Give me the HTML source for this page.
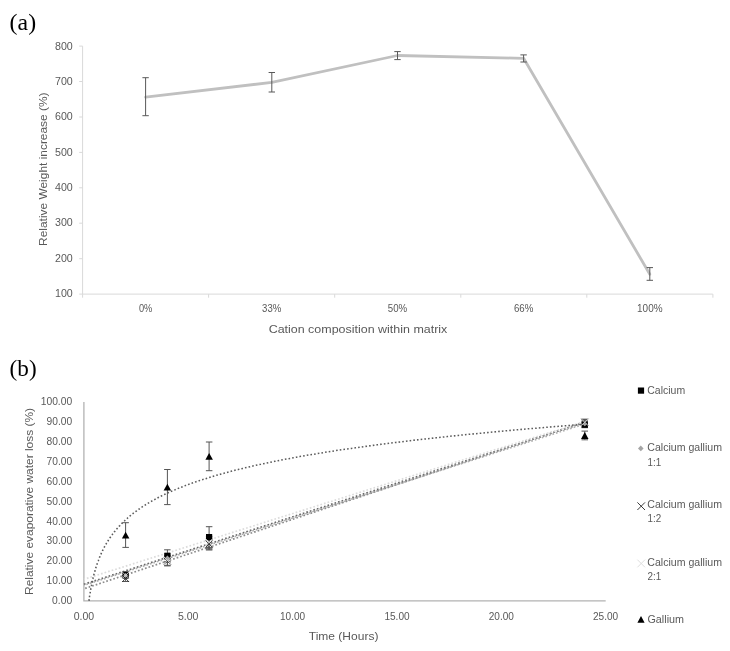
<!DOCTYPE html>
<html lang="en">
<head>
<meta charset="utf-8">
<title>Figure</title>
<style>
html,body{margin:0;padding:0;background:#fff;}
body{width:730px;height:651px;overflow:hidden;}
svg{display:block;filter:blur(0.45px);}
text{font-family:"Liberation Sans",sans-serif;fill:#595959;}
.ser{font-family:"Liberation Serif",serif;fill:#000;}
</style>
</head>
<body>
<svg width="730" height="651" viewBox="0 0 730 651">
<rect width="730" height="651" fill="#fff"/>
<text x="9.6" y="29.8" font-size="23.6" text-anchor="start" textLength="26.5" lengthAdjust="spacingAndGlyphs" class="ser">(a)</text>
<text x="9.6" y="376.1" font-size="23.6" text-anchor="start" textLength="27.0" lengthAdjust="spacingAndGlyphs" class="ser">(b)</text>
<g stroke="#d9d9d9" stroke-width="1" fill="none">
<path d="M82.6 46.1 V294.1 H712.8"/>
<path d="M79.2 294.1 H82.6 M79.2 258.7 H82.6 M79.2 223.2 H82.6 M79.2 187.8 H82.6 M79.2 152.4 H82.6 M79.2 117.0 H82.6 M79.2 81.5 H82.6 M79.2 46.1 H82.6 M82.6 294.1 V297.7 M208.6 294.1 V297.7 M334.7 294.1 V297.7 M460.8 294.1 V297.7 M586.8 294.1 V297.7 M712.9 294.1 V297.7 "/>
</g>
<text x="72.8" y="296.9" font-size="10.5" text-anchor="end" textLength="17.8" lengthAdjust="spacingAndGlyphs">100</text>
<text x="72.8" y="261.6" font-size="10.5" text-anchor="end" textLength="17.8" lengthAdjust="spacingAndGlyphs">200</text>
<text x="72.8" y="226.3" font-size="10.5" text-anchor="end" textLength="17.8" lengthAdjust="spacingAndGlyphs">300</text>
<text x="72.8" y="191.0" font-size="10.5" text-anchor="end" textLength="17.8" lengthAdjust="spacingAndGlyphs">400</text>
<text x="72.8" y="155.7" font-size="10.5" text-anchor="end" textLength="17.8" lengthAdjust="spacingAndGlyphs">500</text>
<text x="72.8" y="120.4" font-size="10.5" text-anchor="end" textLength="17.8" lengthAdjust="spacingAndGlyphs">600</text>
<text x="72.8" y="85.1" font-size="10.5" text-anchor="end" textLength="17.8" lengthAdjust="spacingAndGlyphs">700</text>
<text x="72.8" y="49.8" font-size="10.5" text-anchor="end" textLength="17.8" lengthAdjust="spacingAndGlyphs">800</text>
<text x="145.6" y="312.1" font-size="10.5" text-anchor="middle" textLength="13.4" lengthAdjust="spacingAndGlyphs">0%</text>
<text x="271.7" y="312.1" font-size="10.5" text-anchor="middle" textLength="19.2" lengthAdjust="spacingAndGlyphs">33%</text>
<text x="397.5" y="312.1" font-size="10.5" text-anchor="middle" textLength="19.4" lengthAdjust="spacingAndGlyphs">50%</text>
<text x="523.6" y="312.1" font-size="10.5" text-anchor="middle" textLength="19.4" lengthAdjust="spacingAndGlyphs">66%</text>
<text x="649.8" y="312.1" font-size="10.5" text-anchor="middle" textLength="25.5" lengthAdjust="spacingAndGlyphs">100%</text>
<text x="358.0" y="333.2" font-size="10.8" text-anchor="middle" textLength="178.7" lengthAdjust="spacingAndGlyphs">Cation composition within matrix</text>
<text x="46.8" y="169.2" font-size="11" text-anchor="middle" textLength="153.5" lengthAdjust="spacingAndGlyphs" transform="rotate(-90 46.8 169.2)">Relative Weight increase (%)</text>
<polyline fill="none" stroke="#c0c0c0" stroke-width="2.8" stroke-linejoin="round" stroke-linecap="round" points="145.6,97.2 271.8,82.4 397.5,55.5 523.6,58.3 649.8,274.2"/>
<path d="M145.6 77.7 V115.7 M142.4 77.7 H148.8 M142.4 115.7 H148.8 M271.8 72.5 V92.0 M268.6 72.5 H275.0 M268.6 92.0 H275.0 M397.5 51.6 V59.6 M394.3 51.6 H400.7 M394.3 59.6 H400.7 M523.6 54.9 V62.0 M520.4 54.9 H526.8 M520.4 62.0 H526.8 M649.8 267.6 V280.3 M646.6 267.6 H653.0 M646.6 280.3 H653.0 " stroke="#595959" stroke-width="1" fill="none"/>
<path d="M83.9 402 V600.8 H605.7" stroke="#b2b2b2" stroke-width="1.3" fill="none"/>
<text x="72.2" y="604.2" font-size="10.5" text-anchor="end" textLength="20.1" lengthAdjust="spacingAndGlyphs">0.00</text>
<text x="72.2" y="584.3" font-size="10.5" text-anchor="end" textLength="25.6" lengthAdjust="spacingAndGlyphs">10.00</text>
<text x="72.2" y="564.4" font-size="10.5" text-anchor="end" textLength="25.6" lengthAdjust="spacingAndGlyphs">20.00</text>
<text x="72.2" y="544.4" font-size="10.5" text-anchor="end" textLength="25.6" lengthAdjust="spacingAndGlyphs">30.00</text>
<text x="72.2" y="524.5" font-size="10.5" text-anchor="end" textLength="25.6" lengthAdjust="spacingAndGlyphs">40.00</text>
<text x="72.2" y="504.6" font-size="10.5" text-anchor="end" textLength="25.6" lengthAdjust="spacingAndGlyphs">50.00</text>
<text x="72.2" y="484.7" font-size="10.5" text-anchor="end" textLength="25.6" lengthAdjust="spacingAndGlyphs">60.00</text>
<text x="72.2" y="464.8" font-size="10.5" text-anchor="end" textLength="25.6" lengthAdjust="spacingAndGlyphs">70.00</text>
<text x="72.2" y="444.8" font-size="10.5" text-anchor="end" textLength="25.6" lengthAdjust="spacingAndGlyphs">80.00</text>
<text x="72.2" y="424.9" font-size="10.5" text-anchor="end" textLength="25.6" lengthAdjust="spacingAndGlyphs">90.00</text>
<text x="72.2" y="404.7" font-size="10.5" text-anchor="end" textLength="31.5" lengthAdjust="spacingAndGlyphs">100.00</text>
<text x="83.9" y="619.7" font-size="10.5" text-anchor="middle" textLength="20.5" lengthAdjust="spacingAndGlyphs">0.00</text>
<text x="188.2" y="619.7" font-size="10.5" text-anchor="middle" textLength="20.5" lengthAdjust="spacingAndGlyphs">5.00</text>
<text x="292.6" y="619.7" font-size="10.5" text-anchor="middle" textLength="25.2" lengthAdjust="spacingAndGlyphs">10.00</text>
<text x="397.0" y="619.7" font-size="10.5" text-anchor="middle" textLength="25.2" lengthAdjust="spacingAndGlyphs">15.00</text>
<text x="501.3" y="619.7" font-size="10.5" text-anchor="middle" textLength="25.2" lengthAdjust="spacingAndGlyphs">20.00</text>
<text x="605.6" y="619.7" font-size="10.5" text-anchor="middle" textLength="25.2" lengthAdjust="spacingAndGlyphs">25.00</text>
<text x="343.6" y="639.9" font-size="11" text-anchor="middle" textLength="69.6" lengthAdjust="spacingAndGlyphs">Time (Hours)</text>
<text x="32.8" y="501.5" font-size="11" text-anchor="middle" textLength="187.0" lengthAdjust="spacingAndGlyphs" transform="rotate(-90 32.8 501.5)">Relative evaporative water loss (%)</text>
<path d="M83.9 584.3 L584.8 422.4" stroke="#6a6a6a" stroke-width="1.7" stroke-dasharray="1.7 2.01" stroke-dashoffset="0" fill="none"/>
<path d="M83.9 585.3 L584.8 423.9" stroke="#b0b0b0" stroke-width="1.7" stroke-dasharray="1.7 2.01" stroke-dashoffset="1.2" fill="none"/>
<path d="M83.9 588.8 L584.8 422.0" stroke="#8c8c8c" stroke-width="1.7" stroke-dasharray="1.7 2.01" stroke-dashoffset="2.4" fill="none"/>
<path d="M83.9 579.3 L584.8 421.5" stroke="#dcdcdc" stroke-width="1.7" stroke-dasharray="1.7 2.01" stroke-dashoffset="0.6" fill="none"/>
<path d="M89.0 600.8 L89.1 600.2 L89.1 599.6 L89.2 599.0 L89.3 598.4 L89.4 597.9 L89.5 597.3 L89.5 596.7 L89.6 596.1 L89.7 595.5 L89.8 594.9 L89.9 594.3 L90.0 593.7 L90.1 593.1 L90.2 592.6 L90.3 592.0 L90.4 591.4 L90.5 590.8 L90.6 590.2 L90.7 589.6 L90.8 589.0 L90.9 588.4 L91.0 587.9 L91.1 587.3 L91.2 586.7 L91.3 586.1 L91.5 585.5 L91.6 584.9 L91.7 584.3 L91.8 583.7 L91.9 583.1 L92.1 582.6 L92.2 582.0 L92.3 581.4 L92.4 580.8 L92.6 580.2 L92.7 579.6 L92.8 579.0 L93.0 578.4 L93.1 577.8 L93.3 577.3 L93.4 576.7 L93.5 576.1 L93.7 575.5 L93.8 574.9 L94.0 574.3 L94.2 573.7 L94.3 573.1 L94.5 572.5 L94.6 572.0 L94.8 571.4 L95.0 570.8 L95.1 570.2 L95.3 569.6 L95.5 569.0 L95.7 568.4 L95.9 567.8 L96.0 567.3 L96.2 566.7 L96.4 566.1 L96.6 565.5 L96.8 564.9 L97.0 564.3 L97.2 563.7 L97.4 563.1 L97.6 562.5 L97.8 562.0 L98.0 561.4 L98.3 560.8 L98.5 560.2 L98.7 559.6 L98.9 559.0 L99.2 558.4 L99.4 557.8 L99.6 557.2 L99.9 556.7 L100.1 556.1 L100.4 555.5 L100.6 554.9 L100.9 554.3 L101.2 553.7 L101.4 553.1 L101.7 552.5 L102.0 552.0 L102.3 551.4 L102.5 550.8 L102.8 550.2 L103.1 549.6 L103.4 549.0 L103.7 548.4 L104.0 547.8 L104.3 547.2 L104.6 546.7 L105.0 546.1 L105.3 545.5 L105.6 544.9 L106.0 544.3 L106.3 543.7 L106.6 543.1 L107.0 542.5 L107.3 541.9 L107.7 541.4 L108.1 540.8 L108.4 540.2 L108.8 539.6 L109.2 539.0 L109.6 538.4 L110.0 537.8 L110.4 537.2 L110.8 536.6 L111.2 536.1 L111.6 535.5 L112.1 534.9 L112.5 534.3 L112.9 533.7 L113.4 533.1 L113.9 532.5 L114.3 531.9 L114.8 531.4 L115.3 530.8 L115.7 530.2 L116.2 529.6 L116.7 529.0 L117.2 528.4 L117.8 527.8 L118.3 527.2 L118.8 526.6 L119.3 526.1 L119.9 525.5 L120.4 524.9 L121.0 524.3 L121.6 523.7 L122.2 523.1 L122.8 522.5 L123.4 521.9 L124.0 521.3 L124.6 520.8 L125.2 520.2 L125.8 519.6 L126.5 519.0 L127.2 518.4 L127.8 517.8 L128.5 517.2 L129.2 516.6 L129.9 516.0 L130.6 515.5 L131.3 514.9 L132.0 514.3 L132.8 513.7 L133.5 513.1 L134.3 512.5 L135.1 511.9 L135.9 511.3 L136.7 510.8 L137.5 510.2 L138.3 509.6 L139.2 509.0 L140.0 508.4 L140.9 507.8 L141.8 507.2 L142.6 506.6 L143.5 506.0 L144.5 505.5 L145.4 504.9 L146.4 504.3 L147.3 503.7 L148.3 503.1 L149.3 502.5 L150.3 501.9 L151.3 501.3 L152.4 500.7 L153.4 500.2 L154.5 499.6 L155.6 499.0 L156.7 498.4 L157.8 497.8 L158.9 497.2 L160.1 496.6 L161.3 496.0 L162.5 495.5 L163.7 494.9 L164.9 494.3 L166.2 493.7 L167.4 493.1 L168.7 492.5 L170.0 491.9 L171.4 491.3 L172.7 490.7 L174.1 490.2 L175.5 489.6 L176.9 489.0 L178.3 488.4 L179.8 487.8 L181.3 487.2 L182.8 486.6 L184.3 486.0 L185.8 485.4 L187.4 484.9 L189.0 484.3 L190.6 483.7 L192.3 483.1 L193.9 482.5 L195.6 481.9 L197.4 481.3 L199.1 480.7 L200.9 480.1 L202.7 479.6 L204.5 479.0 L206.4 478.4 L208.3 477.8 L210.2 477.2 L212.1 476.6 L214.1 476.0 L216.1 475.4 L218.2 474.9 L220.2 474.3 L222.3 473.7 L224.5 473.1 L226.6 472.5 L228.8 471.9 L231.1 471.3 L233.4 470.7 L235.7 470.1 L238.0 469.6 L240.4 469.0 L242.8 468.4 L245.2 467.8 L247.7 467.2 L250.3 466.6 L252.8 466.0 L255.4 465.4 L258.1 464.8 L260.8 464.3 L263.5 463.7 L266.3 463.1 L269.1 462.5 L271.9 461.9 L274.8 461.3 L277.8 460.7 L280.8 460.1 L283.8 459.5 L286.9 459.0 L290.0 458.4 L293.2 457.8 L296.4 457.2 L299.7 456.6 L303.0 456.0 L306.4 455.4 L309.9 454.8 L313.3 454.3 L316.9 453.7 L320.5 453.1 L324.1 452.5 L327.8 451.9 L331.6 451.3 L335.4 450.7 L339.3 450.1 L343.2 449.5 L347.2 449.0 L351.3 448.4 L355.4 447.8 L359.6 447.2 L363.9 446.6 L368.2 446.0 L372.6 445.4 L377.0 444.8 L381.5 444.2 L386.1 443.7 L390.8 443.1 L395.5 442.5 L400.3 441.9 L405.2 441.3 L410.2 440.7 L415.2 440.1 L420.3 439.5 L425.5 438.9 L430.8 438.4 L436.1 437.8 L441.6 437.2 L447.1 436.6 L452.7 436.0 L458.4 435.4 L464.1 434.8 L470.0 434.2 L476.0 433.7 L482.0 433.1 L488.2 432.5 L494.4 431.9 L500.7 431.3 L507.2 430.7 L513.7 430.1 L520.3 429.5 L527.0 428.9 L533.9 428.4 L540.8 427.8 L547.9 427.2 L555.0 426.6 L562.3 426.0 L569.7 425.4 L577.2 424.8 L584.8 424.2 " stroke="#5c5c5c" stroke-width="1.55" stroke-dasharray="1.6 2.11" stroke-dashoffset="0" fill="none"/>
<path d="M125.6 572.3 V578.3 M122.4 572.3 H128.9 M122.4 578.3 H128.9" stroke="#555555" stroke-width="1" fill="none"/>
<path d="M167.4 555.4 V565.3 M164.1 555.4 H170.6 M164.1 565.3 H170.6" stroke="#555555" stroke-width="1" fill="none"/>
<path d="M209.1 536.3 V548.2 M205.9 536.3 H212.4 M205.9 548.2 H212.4" stroke="#555555" stroke-width="1" fill="none"/>
<path d="M584.8 419.3 V425.3 M581.5 419.3 H588.0 M581.5 425.3 H588.0" stroke="#555555" stroke-width="1" fill="none"/>
<path d="M125.6 575.5 V581.5 M122.4 575.5 H128.9 M122.4 581.5 H128.9" stroke="#555555" stroke-width="1" fill="none"/>
<path d="M167.4 556.0 V565.9 M164.1 556.0 H170.6 M164.1 565.9 H170.6" stroke="#555555" stroke-width="1" fill="none"/>
<path d="M209.1 538.1 V550.0 M205.9 538.1 H212.4 M205.9 550.0 H212.4" stroke="#555555" stroke-width="1" fill="none"/>
<path d="M584.8 419.3 V425.3 M581.5 419.3 H588.0 M581.5 425.3 H588.0" stroke="#555555" stroke-width="1" fill="none"/>
<path d="M125.6 572.5 V578.5 M122.4 572.5 H128.9 M122.4 578.5 H128.9" stroke="#555555" stroke-width="1" fill="none"/>
<path d="M167.4 554.0 V562.0 M164.1 554.0 H170.6 M164.1 562.0 H170.6" stroke="#555555" stroke-width="1" fill="none"/>
<path d="M209.1 539.2 V549.2 M205.9 539.2 H212.4 M205.9 549.2 H212.4" stroke="#555555" stroke-width="1" fill="none"/>
<path d="M584.8 420.9 V426.9 M581.5 420.9 H588.0 M581.5 426.9 H588.0" stroke="#555555" stroke-width="1" fill="none"/>
<path d="M125.6 571.9 V577.9 M122.4 571.9 H128.9 M122.4 577.9 H128.9" stroke="#555555" stroke-width="1" fill="none"/>
<path d="M167.4 549.8 V561.8 M164.1 549.8 H170.6 M164.1 561.8 H170.6" stroke="#555555" stroke-width="1" fill="none"/>
<path d="M209.1 526.7 V547.4 M205.9 526.7 H212.4 M205.9 547.4 H212.4" stroke="#555555" stroke-width="1" fill="none"/>
<path d="M584.8 421.7 V427.7 M581.5 421.7 H588.0 M581.5 427.7 H588.0" stroke="#555555" stroke-width="1" fill="none"/>
<path d="M125.6 522.7 V547.4 M122.4 522.7 H128.9 M122.4 547.4 H128.9" stroke="#555555" stroke-width="1" fill="none"/>
<path d="M167.4 469.5 V504.6 M164.1 469.5 H170.6 M164.1 504.6 H170.6" stroke="#555555" stroke-width="1" fill="none"/>
<path d="M209.1 442.0 V470.7 M205.9 442.0 H212.4 M205.9 470.7 H212.4" stroke="#555555" stroke-width="1" fill="none"/>
<path d="M584.8 431.1 V439.8 M581.5 431.1 H588.0 M581.5 439.8 H588.0" stroke="#555555" stroke-width="1" fill="none"/>
<rect x="122.5" y="571.8" width="6.2" height="6.2" fill="#000"/>
<rect x="164.3" y="552.7" width="6.2" height="6.2" fill="#000"/>
<rect x="206.0" y="534.0" width="6.2" height="6.2" fill="#000"/>
<rect x="581.7" y="421.6" width="6.2" height="6.2" fill="#000"/>
<path d="M125.6 573.1 L128.0 575.5 L125.6 577.9 L123.2 575.5 Z" fill="#a5a5a5"/>
<path d="M167.4 555.6 L169.8 558.0 L167.4 560.4 L165.0 558.0 Z" fill="#a5a5a5"/>
<path d="M209.1 541.8 L211.5 544.2 L209.1 546.6 L206.7 544.2 Z" fill="#a5a5a5"/>
<path d="M584.8 421.5 L587.2 423.9 L584.8 426.3 L582.4 423.9 Z" fill="#a5a5a5"/>
<path d="M122.1 575.0 L129.1 582.0 M122.1 582.0 L129.1 575.0" stroke="#262626" stroke-width="0.9" fill="none"/>
<path d="M163.9 557.5 L170.9 564.5 M163.9 564.5 L170.9 557.5" stroke="#262626" stroke-width="0.9" fill="none"/>
<path d="M205.6 540.5 L212.6 547.5 M205.6 547.5 L212.6 540.5" stroke="#262626" stroke-width="0.9" fill="none"/>
<path d="M581.3 418.8 L588.3 425.8 M581.3 425.8 L588.3 418.8" stroke="#262626" stroke-width="0.9" fill="none"/>
<path d="M122.1 571.8 L129.1 578.8 M122.1 578.8 L129.1 571.8" stroke="#d9d9d9" stroke-width="0.9" fill="none"/>
<path d="M163.9 556.9 L170.9 563.9 M163.9 563.9 L170.9 556.9" stroke="#d9d9d9" stroke-width="0.9" fill="none"/>
<path d="M205.6 538.7 L212.6 545.7 M205.6 545.7 L212.6 538.7" stroke="#d9d9d9" stroke-width="0.9" fill="none"/>
<path d="M581.3 418.8 L588.3 425.8 M581.3 425.8 L588.3 418.8" stroke="#d9d9d9" stroke-width="0.9" fill="none"/>
<path d="M125.6 531.7 L129.4 538.5 H121.9 Z" fill="#000"/>
<path d="M167.4 483.7 L171.1 490.5 H163.6 Z" fill="#000"/>
<path d="M209.1 453.0 L212.9 459.8 H205.4 Z" fill="#000"/>
<path d="M584.8 432.1 L588.5 438.9 H581.0 Z" fill="#000"/>
<rect x="637.9" y="387.5" width="6.2" height="6.2" fill="#000"/>
<text x="647.3" y="393.6" font-size="11" text-anchor="start" textLength="37.8" lengthAdjust="spacingAndGlyphs">Calcium</text>
<path d="M640.8 445.6 L643.6 448.4 L640.8 451.2 L638.0 448.4 Z" fill="#a5a5a5"/>
<text x="647.3" y="451.2" font-size="11" text-anchor="start" textLength="74.7" lengthAdjust="spacingAndGlyphs">Calcium gallium</text>
<text x="647.5" y="465.6" font-size="11" text-anchor="start" textLength="13.7" lengthAdjust="spacingAndGlyphs">1:1</text>
<path d="M637.4 502.4 L645.0 510.0 M637.4 510.0 L645.0 502.4" stroke="#262626" stroke-width="0.9" fill="none"/>
<text x="647.3" y="508.3" font-size="11" text-anchor="start" textLength="74.7" lengthAdjust="spacingAndGlyphs">Calcium gallium</text>
<text x="647.5" y="522.2" font-size="11" text-anchor="start" textLength="13.7" lengthAdjust="spacingAndGlyphs">1:2</text>
<path d="M637.4 559.7 L645.0 567.3 M637.4 567.3 L645.0 559.7" stroke="#d9d9d9" stroke-width="0.9" fill="none"/>
<text x="647.3" y="566.3" font-size="11" text-anchor="start" textLength="74.7" lengthAdjust="spacingAndGlyphs">Calcium gallium</text>
<text x="647.5" y="579.6" font-size="11" text-anchor="start" textLength="13.7" lengthAdjust="spacingAndGlyphs">2:1</text>
<path d="M641.0 616.1 L644.6 622.7 H637.4 Z" fill="#000"/>
<text x="647.5" y="622.5" font-size="11" text-anchor="start" textLength="36.5" lengthAdjust="spacingAndGlyphs">Gallium</text>
</svg>
</body>
</html>
